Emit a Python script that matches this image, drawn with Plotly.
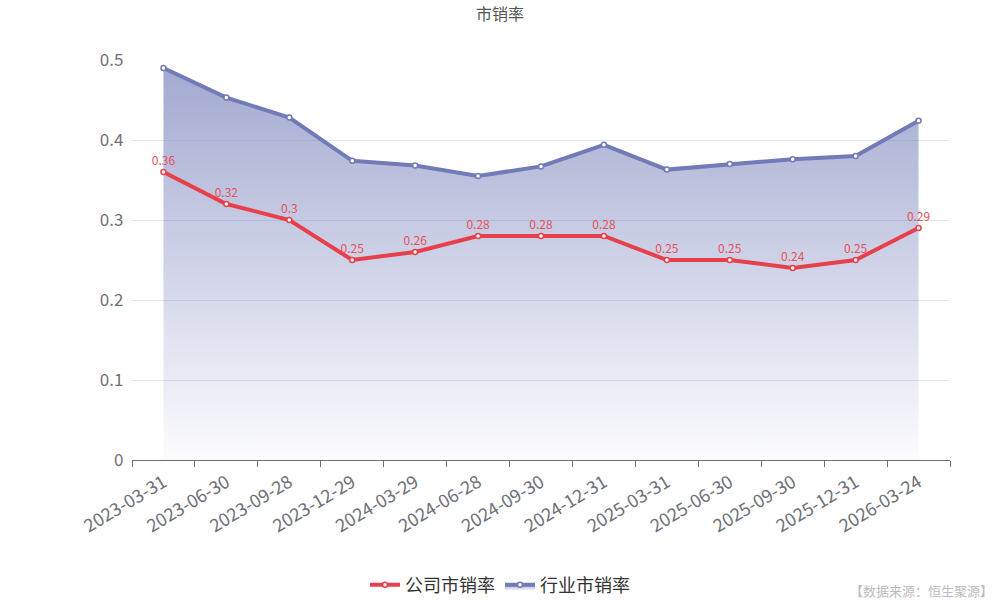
import plotly.graph_objects as go

dates = ["2023-03-31", "2023-06-30", "2023-09-28", "2023-12-29", "2024-03-29", "2024-06-28",
         "2024-09-30", "2024-12-31", "2025-03-31", "2025-06-30", "2025-09-30", "2025-12-31", "2026-03-24"]
company = [0.36, 0.32, 0.30, 0.25, 0.26, 0.28, 0.28, 0.28, 0.25, 0.25, 0.24, 0.25, 0.29]
industry = [0.490, 0.453, 0.428, 0.374, 0.368, 0.355, 0.367, 0.394, 0.363, 0.370, 0.376, 0.380, 0.424]
company_labels = ["0.36", "0.32", "0.3", "0.25", "0.26", "0.28", "0.28", "0.28", "0.25", "0.25", "0.24", "0.25", "0.29"]

FONT = "Noto Sans CJK SC"
RED = "#e8404b"
BLUE = "#717bb8"

fig = go.Figure()
fig.add_trace(go.Scatter(
    x=dates, y=industry, name="行业市销率", mode="lines+markers",
    line=dict(color=BLUE, width=4),
    marker=dict(symbol="circle", size=5, color="white", line=dict(color=BLUE, width=1.5)),
    fill="tozeroy",
    fillgradient=dict(type="vertical",
                      colorscale=[[0, "rgba(113,123,184,0.02)"], [1, "rgba(113,123,184,0.65)"]]),
    legendrank=2,
))
fig.add_trace(go.Scatter(
    x=dates, y=company, name="公司市销率", mode="lines+markers+text",
    line=dict(color=RED, width=4),
    marker=dict(symbol="circle", size=5, color="white", line=dict(color=RED, width=1.5)),
    text=company_labels, textposition="top center",
    textfont=dict(color="#e8505a", size=12, family=FONT),
    legendrank=1,
))

fig.update_layout(
    width=1000, height=600,
    plot_bgcolor="white", paper_bgcolor="white",
    font=dict(family=FONT, color="#666"),
    title=dict(text="市销率", x=0.5, xanchor="center", y=0.985, yanchor="top",
               font=dict(size=16, color="#555", family=FONT)),
    margin=dict(l=132, r=50, t=60, b=140, autoexpand=False),
    showlegend=True,
    legend=dict(orientation="h", xref="container", x=0.5, xanchor="center",
                yref="container", y=0.025, yanchor="middle",
                font=dict(size=18, color="#333", family=FONT), traceorder="normal",
                itemwidth=30),
    xaxis=dict(type="category", range=[-0.5, 12.5], tickangle=-31,
               tickson="boundaries", ticks="outside", ticklen=6, tickcolor="#6e7079",
               showline=True, linecolor="#6e7079", linewidth=1, showgrid=False,
               automargin=False, ticklabelstandoff=4,
               tickfont=dict(size=18, color="#6e7079", family=FONT)),
    yaxis=dict(range=[0, 0.5], dtick=0.1, showgrid=True, gridcolor="#e0e6f1",
               zeroline=False, showline=False, ticks="", automargin=False,
               tickfont=dict(size=17, color="#6e7079", family=FONT), ticksuffix="  "),
)
fig.add_annotation(text="【数据来源：恒生聚源】", xref="paper", yref="paper",
                   x=1.055, xanchor="right", y=-0.325, yanchor="middle", showarrow=False,
                   font=dict(size=13, color="#bbb", family=FONT))

fig.write_html("out.html", config={"displayModeBar": False},
               post_script="document.body.style.margin='0';")
